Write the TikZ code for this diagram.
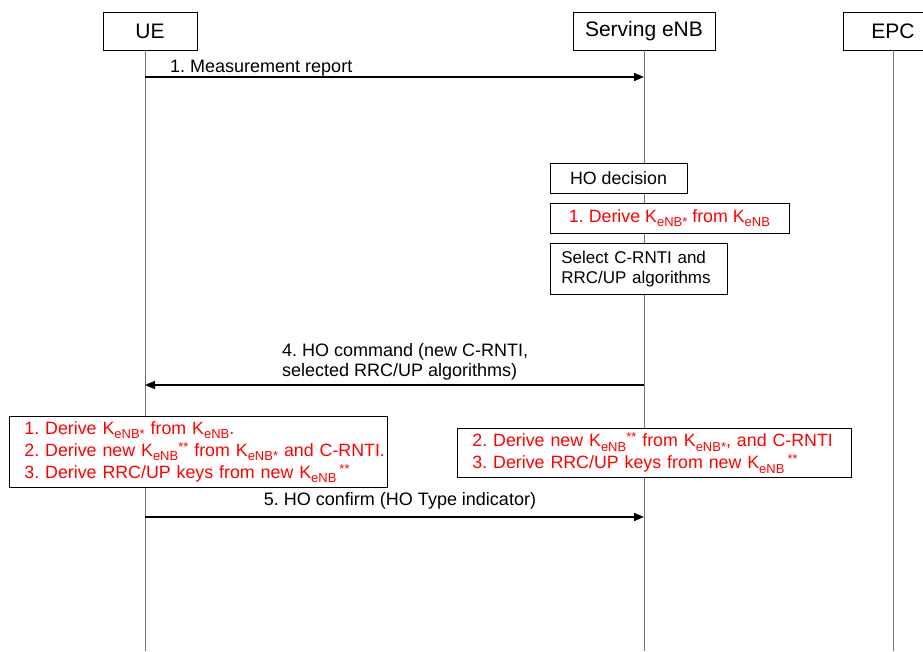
\documentclass[tikz,border=0pt]{standalone}
\usepackage{fontspec}
\setmainfont{Liberation Sans}
\usetikzlibrary{arrows.meta}
% subscript and superscript pieces for key names such as K_eNB*
\newcommand{\lowsub}[1]{\raisebox{-0.45ex}{\fontsize{13}{13}\selectfont #1}}
\newcommand{\hisup}[1]{\raisebox{0.55ex}{\fontsize{13}{13}\selectfont #1}}

\begin{document}
\frenchspacing
\begin{tikzpicture}[x=1pt,y=-1pt,
  every node/.style={font=\fontsize{17.8}{20.5}\selectfont},
  head/.style={draw, fill=white, line width=0.8pt, minimum height=38pt,
    font=\fontsize{21}{24}\selectfont, inner sep=0pt},
  life/.style={draw=black!55, line width=1pt},
  msg/.style={draw, line width=1.4pt, -{Triangle[length=10pt,width=8pt]}},
  stepbox/.style={draw, fill=white, line width=0.8pt, inner sep=0pt},
  keybox/.style={stepbox, anchor=north west, inner xsep=15pt, align=left, text=red,
    font=\fontsize{17.8}{22}\selectfont},
  lbl/.style={inner sep=0pt, font=\fontsize{18}{20}\selectfont}
]
\useasboundingbox (0,0) rectangle (923,651);

% entities
\node[head, minimum width=94pt]  (ue)  at (150,31) {UE};
\node[head, minimum width=142pt] (enb) at (644,31) {Serving eNB};
\node[head, minimum width=100pt] (epc) at (893,31) {EPC};

% lifelines
\coordinate (ue-end)  at (145,651);
\coordinate (enb-end) at (644,651);
\coordinate (epc-end) at (893,651);
\draw[life] (ue-end |- ue.south) -- (ue-end);
\draw[life] (enb.south) -- (enb-end);
\draw[life] (epc.south) -- (epc-end);

% 1. measurement report
\coordinate (m1-ue)  at (145,77);
\coordinate (m1-enb) at (644,77);
\draw[msg] (m1-ue) -- (m1-enb);
\node[lbl, anchor=base west] (m1-lbl) at (170,72) {1. Measurement report};

% handover preparation at the serving eNB
\node[stepbox, minimum width=137pt, minimum height=30pt] (hodec) at (618.5,178) {HO decision};
\node[stepbox, minimum width=239pt, minimum height=30pt, text=red] (kstar) at (669.5,218)
  {1. Derive K\lowsub{eNB*} from K\lowsub{eNB}};
\node[stepbox, anchor=north west, minimum width=177pt, minimum height=51pt,
  text width=155pt, inner xsep=11pt, align=left, font=\fontsize{17}{20.5}\selectfont] (sel) at (550,243)
  {\mbox{Select C-RNTI and}\\\mbox{RRC/UP algorithms}};

% 4. handover command
\coordinate (m4-enb) at (644,385);
\coordinate (m4-ue)  at (145,385);
\draw[msg] (m4-enb) -- (m4-ue);
\node[lbl, anchor=north west, align=left] (m4-lbl) at (282,343)
  {4. HO command (new C-RNTI,\\selected RRC/UP algorithms)};

% key derivation on both sides
\node[keybox, minimum width=378pt, minimum height=71pt, text width=348pt] (uekeys) at (9,416)
  {\mbox{1. Derive K\lowsub{eNB*} from K\lowsub{eNB}.}\\
   \mbox{2. Derive new K\lowsub{eNB}\hisup{**} from K\lowsub{eNB*} and C-RNTI.}\\
   \mbox{3. Derive RRC/UP keys from new K\lowsub{eNB}\,\hisup{**}}};
\node[keybox, minimum width=394pt, minimum height=49pt, text width=364pt] (enbkeys) at (457,428)
  {\mbox{2. Derive new K\lowsub{eNB}\hisup{**} from K\lowsub{eNB*}, and C-RNTI}\\
   \mbox{3. Derive RRC/UP keys from new K\lowsub{eNB}\,\hisup{**}}};

% 5. handover confirm
\coordinate (m5-ue)  at (145,517);
\coordinate (m5-enb) at (644,517);
\draw[msg] (m5-ue) -- (m5-enb);
\node[lbl, anchor=base] (m5-lbl) at (400,505) {5. HO confirm (HO Type indicator)};
\end{tikzpicture}
\end{document}
